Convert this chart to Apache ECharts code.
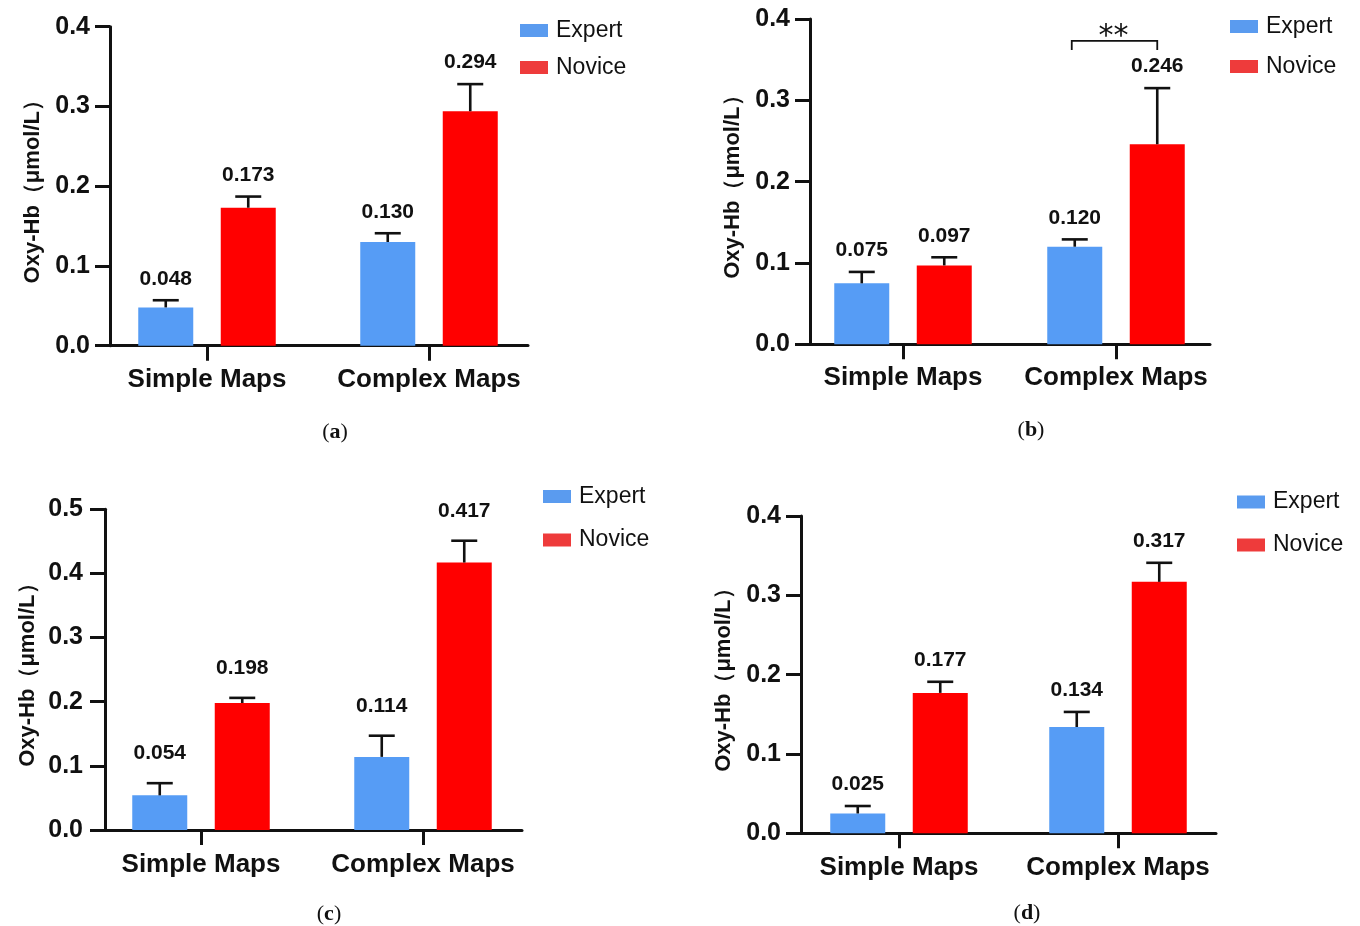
<!DOCTYPE html>
<html><head><meta charset="utf-8">
<script src="https://cdn.jsdelivr.net/npm/echarts@6/dist/echarts.min.js"></script>
<style>html,body{margin:0;padding:0;background:#fff}#c{width:1360px;height:926px}</style>
</head><body><div id="c"></div>
<script>
// ---------- data ----------
const categories = ['Simple Maps', 'Complex Maps'];
const groupNames = ['Expert', 'Novice'];
const panelTags = ['a', 'b', 'c', 'd'];
const yMaxes = [0.4, 0.4, 0.5, 0.4];
const yInterval = 0.1;
const yAxisTitle = 'Oxy-Hb（μmol/L）';

const expertA = [0.048, 0.130];
const noviceA = [0.173, 0.294];
const expertErrA = [0.009, 0.011];
const noviceErrA = [0.014, 0.034];

const expertB = [0.075, 0.120];
const noviceB = [0.097, 0.246];
const expertErrB = [0.014, 0.009];
const noviceErrB = [0.010, 0.069];

const expertC = [0.054, 0.114];
const noviceC = [0.198, 0.417];
const expertErrC = [0.019, 0.033];
const noviceErrC = [0.008, 0.034];

const expertD = [0.025, 0.134];
const noviceD = [0.177, 0.317];
const expertErrD = [0.0094, 0.019];
const noviceErrD = [0.014, 0.024];

// significance bracket in panel (b): [category index, level, text]
const sigB = [[1, 0.373, '**']];

// ---------- style / layout ----------
const FONT = '"Liberation Sans", Arial, Helvetica, sans-serif';
const INK = '#111111';
const BAR_BLUE = '#569CF5';
const BAR_RED = '#FF0000';
const LEG_BLUE = '#5A9BEF';
const LEG_RED = '#EE3B3B';
const BAR_W = 55;
const BAR_SHIFT = 41.25;
const CAP = 26;

const layout = [
  { frame: {left: 110, top: 26.7, width: 418, height: 319}, main: {left: 96, width: 444},
    legend: {left: 520, top: 19, gap: 14}, labelOff: 21.5, labelMargin: 20, catMargin: 21,
    tag: {x: 335, y: 432} },
  { frame: {left: 810, top: 19, width: 400, height: 325.3}, main: {left: 796.5, width: 426},
    legend: {left: 1230, top: 15, gap: 17}, labelOff: 21.5, labelMargin: 20, catMargin: 21,
    tag: {x: 1031, y: 430} },
  { frame: {left: 105, top: 509.3, width: 417, height: 320.7}, main: {left: 90, width: 444},
    legend: {left: 543, top: 485, gap: 20.5}, labelOff: 30, labelMargin: 22, catMargin: 22,
    tag: {x: 329, y: 914} },
  { frame: {left: 801, top: 516, width: 415, height: 317.3}, main: {left: 789.5, width: 438},
    legend: {left: 1237, top: 490.5, gap: 20}, labelOff: 22, labelMargin: 20, catMargin: 22,
    tag: {x: 1027, y: 913} }
];

const panels = [
  {expert: expertA, novice: noviceA, eErr: expertErrA, nErr: noviceErrA, sig: []},
  {expert: expertB, novice: noviceB, eErr: expertErrB, nErr: noviceErrB, sig: sigB},
  {expert: expertC, novice: noviceC, eErr: expertErrC, nErr: noviceErrC, sig: []},
  {expert: expertD, novice: noviceD, eErr: expertErrD, nErr: noviceErrD, sig: []}
];

function errRender(side, labelOff) {
  return function (params, api) {
    const cat = api.value(0), v = api.value(1), e = api.value(2);
    const base = api.coord([cat, v]);
    const top = api.coord([cat, v + e]);
    const x = base[0] + side * BAR_SHIFT;
    return {
      type: 'group',
      children: [
        {type: 'line', shape: {x1: x, y1: base[1], x2: x, y2: top[1]}, style: {stroke: INK, lineWidth: 2.6}},
        {type: 'line', shape: {x1: x - CAP / 2, y1: top[1], x2: x + CAP / 2, y2: top[1]}, style: {stroke: INK, lineWidth: 2.6}},
        {type: 'text', style: {text: v.toFixed(3), x: x, y: top[1] - labelOff, align: 'center', verticalAlign: 'middle',
          font: 'bold 21px ' + FONT, fill: INK}}
      ]
    };
  };
}

function sigRender(params, api) {
  const cat = api.value(0), lvl = api.value(1);
  const p = api.coord([cat, lvl]);
  const xl = p[0] - BAR_SHIFT - 3, xr = p[0] + BAR_SHIFT;
  return {
    type: 'group',
    children: [
      {type: 'polyline', shape: {points: [[xl, p[1] + 9], [xl, p[1]], [xr, p[1]], [xr, p[1] + 9]]},
        style: {stroke: INK, lineWidth: 1.8, fill: null}},
      {type: 'text', style: {text: api.value(2), x: (xl + xr) / 2 - 1, y: p[1] - 4, align: 'center', verticalAlign: 'middle',
        font: '30px "DejaVu Sans", sans-serif', fill: INK}}
    ]
  };
}

const option = {
  animation: false,
  backgroundColor: '#ffffff',
  grid: [], xAxis: [], yAxis: [], series: [], legend: [], graphic: []
};

panels.forEach((pd, p) => {
  const L = layout[p];
  const fi = 2 * p, mi = 2 * p + 1;
  option.grid.push({left: L.frame.left, top: L.frame.top, width: L.frame.width, height: L.frame.height});
  option.grid.push({left: L.main.left, top: L.frame.top, width: L.main.width, height: L.frame.height});

  option.xAxis.push({
    gridIndex: fi, type: 'value', min: 0, max: 1,
    axisLine: {show: true, onZero: false, lineStyle: {color: INK, width: 3}},
    axisTick: {show: false}, axisLabel: {show: false}, splitLine: {show: false}
  });
  option.xAxis.push({
    gridIndex: mi, type: 'category', data: categories,
    axisLine: {show: false},
    axisTick: {show: true, alignWithLabel: true, interval: 0, length: 15, lineStyle: {color: INK, width: 3}},
    axisLabel: {interval: 0, hideOverlap: false, margin: L.catMargin, fontSize: 26, fontWeight: 'bold', color: INK, fontFamily: FONT},
    splitLine: {show: false}
  });
  option.yAxis.push({
    gridIndex: fi, type: 'value', min: 0, max: yMaxes[p], interval: yInterval,
    axisLine: {show: true, onZero: false, lineStyle: {color: INK, width: 3}},
    axisTick: {show: true, length: 15, lineStyle: {color: INK, width: 3}},
    axisLabel: {margin: L.labelMargin, fontSize: 25, fontWeight: 'bold', color: INK, fontFamily: FONT,
      formatter: v => v.toFixed(1)},
    splitLine: {show: false},
    name: yAxisTitle, nameLocation: 'middle', nameGap: 66, nameRotate: 90,
    nameTextStyle: {fontSize: 22, fontWeight: 'bold', color: INK, fontFamily: FONT}
  });
  option.yAxis.push({gridIndex: mi, type: 'value', min: 0, max: yMaxes[p], show: false});

  option.series.push({
    type: 'bar', name: groupNames[0], xAxisIndex: mi, yAxisIndex: mi, data: pd.expert,
    barWidth: BAR_W, barGap: '50%', itemStyle: {color: BAR_BLUE}, z: 2
  });
  option.series.push({
    type: 'bar', name: groupNames[1], xAxisIndex: mi, yAxisIndex: mi, data: pd.novice,
    barWidth: BAR_W, barGap: '50%', itemStyle: {color: BAR_RED}, z: 2
  });
  option.series.push({
    type: 'custom', xAxisIndex: mi, yAxisIndex: mi, z: 3,
    renderItem: errRender(-1, L.labelOff),
    data: categories.map((c, i) => [i, pd.expert[i], pd.eErr[i]])
  });
  option.series.push({
    type: 'custom', xAxisIndex: mi, yAxisIndex: mi, z: 3,
    renderItem: errRender(1, L.labelOff),
    data: categories.map((c, i) => [i, pd.novice[i], pd.nErr[i]])
  });
  if (pd.sig.length) {
    option.series.push({
      type: 'custom', xAxisIndex: mi, yAxisIndex: mi, z: 3,
      renderItem: sigRender, data: pd.sig
    });
  }

  option.legend.push({
    data: [{name: groupNames[0], itemStyle: {color: LEG_BLUE}}, {name: groupNames[1], itemStyle: {color: LEG_RED}}],
    orient: 'vertical', left: L.legend.left, top: L.legend.top, padding: 0,
    itemWidth: 28, itemHeight: 13, itemGap: L.legend.gap, icon: 'rect', selectedMode: false,
    textStyle: {fontSize: 23, color: INK, fontFamily: FONT, lineHeight: 23, padding: [0, 0, 0, 3]}
  });

  option.graphic.push({
    type: 'text', x: L.tag.x, y: L.tag.y,
    style: {
      text: '{n|(}{b|' + panelTags[p] + '}{n|)}', align: 'center', verticalAlign: 'middle',
      rich: {
        n: {fontFamily: '"Liberation Serif", "Times New Roman", serif', fontSize: 22, fill: INK, color: INK},
        b: {fontFamily: '"Liberation Serif", "Times New Roman", serif', fontSize: 22, fontWeight: 'bold', fill: INK, color: INK}
      }
    }
  });
});

const chart = echarts.init(document.getElementById('c'), null, {renderer: 'canvas'});
chart.setOption(option);
</script>
</body></html>
